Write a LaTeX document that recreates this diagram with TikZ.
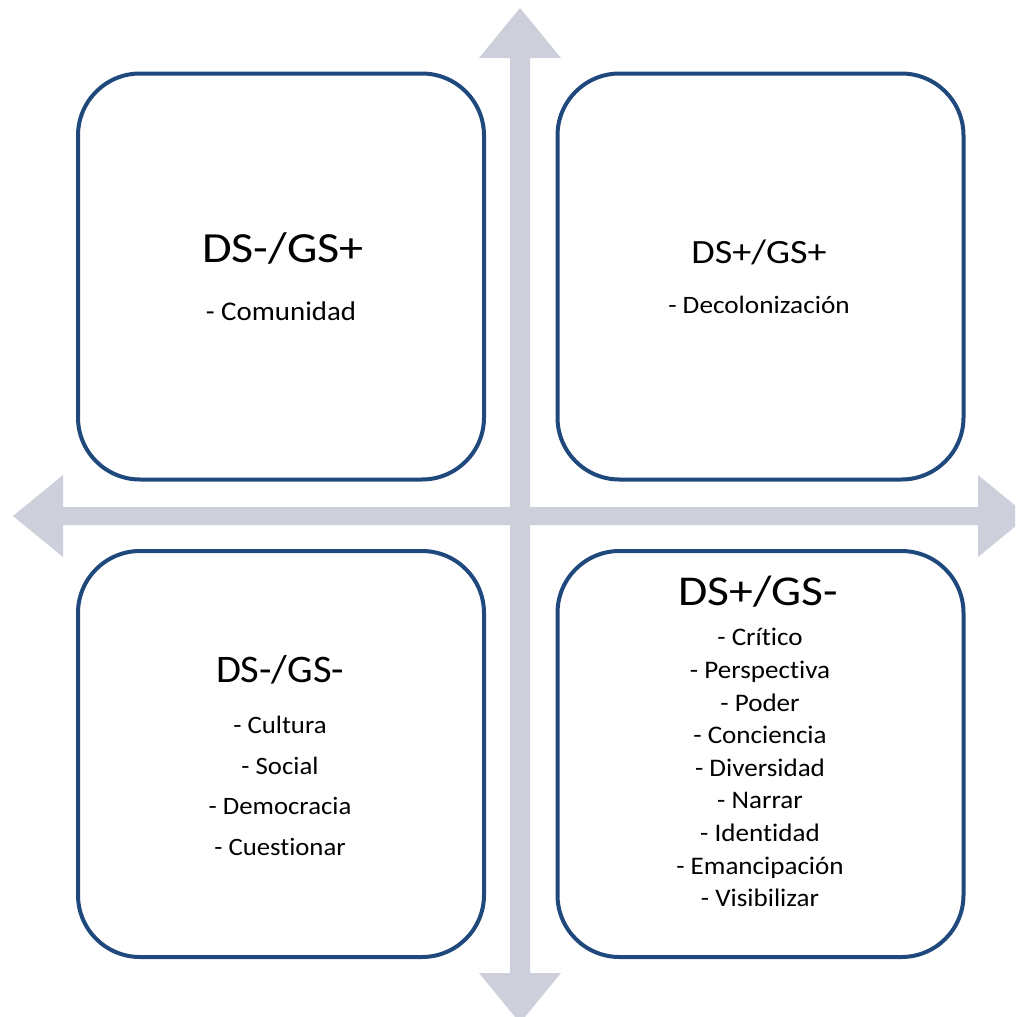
\documentclass[tikz,border=0pt]{standalone}
\usepackage{fontspec}
\usepackage{graphicx}
\setmainfont{Carlito}[Ligatures={CommonOff,ContextualOff}]
\definecolor{boxblue}{RGB}{31,73,125}
\definecolor{axisgray}{RGB}{205,208,218}
\newcommand{\wideA}[1]{\scalebox{1.12}[1]{#1}}
\newcommand{\wideB}[1]{\scalebox{1.07}[1]{#1}}
\tikzset{
  quad/.style={draw=boxblue, line width=4pt, rounded corners=62pt, minimum width=406pt, minimum height=406pt, inner sep=0pt, fill=white},
  axis/.style={fill=axisgray},
  ttl/.style={anchor=base, inner sep=0pt},
  items/.style={anchor=base, inner sep=0pt, align=center}
}
\begin{document}
\begin{tikzpicture}[x=1pt,y=-1pt]
\useasboundingbox (0,0) rectangle (1015,1017);
\begin{scope}
\clip (0,0) rectangle (1015,1017);
\fill[axis] (520,8) -- (561,58) -- (530,58) -- (530,973) -- (561,973) -- (520,1023) -- (479,973) -- (510,973) -- (510,58) -- (479,58) -- cycle;
\fill[axis] (13,516) -- (63,475) -- (63,507) -- (978,507) -- (978,475) -- (1028,516) -- (978,557) -- (978,525) -- (63,525) -- (63,557) -- cycle;
\end{scope}
\node[quad] (tl) at (281,276.5) {};
\node[quad] (tr) at (760.5,276.5) {};
\node[quad] (bl) at (281,754) {};
\node[quad] (br) at (760.5,754) {};
\node[ttl, font=\fontsize{43}{50}\selectfont] (tlt) at (283,262) {\wideA{DS-/GS+}};
\node[items, font=\fontsize{27}{32}\selectfont] (tli) at (281,320) {\wideB{- Comunidad}};
\node[ttl, font=\fontsize{34}{40}\selectfont] (trt) at (759,263) {\wideA{DS+/GS+}};
\node[items, font=\fontsize{25}{30}\selectfont] (tri) at (759,313) {\scalebox{1.09}[1]{- Decolonización}};
\node[ttl, font=\fontsize{39}{47}\selectfont] (blt) at (280,682) {\scalebox{1.04}[1]{DS-/GS-}};
\node[items, font=\fontsize{25}{40.5}\selectfont] (bli) at (280,855) {\wideB{- Cultura}\\\wideB{- Social}\\\wideB{- Democracia}\\\wideB{- Cuestionar}};
\node[ttl, font=\fontsize{42.5}{50}\selectfont] (brt) at (758,605) {\wideA{DS+/GS-}};
\node[items, font=\fontsize{25.3}{32.6}\selectfont] (bri) at (760,906.7) {\wideB{- Crítico}\\\wideB{- Perspectiva}\\\wideB{- Poder}\\\wideB{- Conciencia}\\\wideB{- Diversidad}\\\wideB{- Narrar}\\\wideB{- Identidad}\\\wideB{- Emancipación}\\\wideB{- Visibilizar}};
\end{tikzpicture}
\end{document}
